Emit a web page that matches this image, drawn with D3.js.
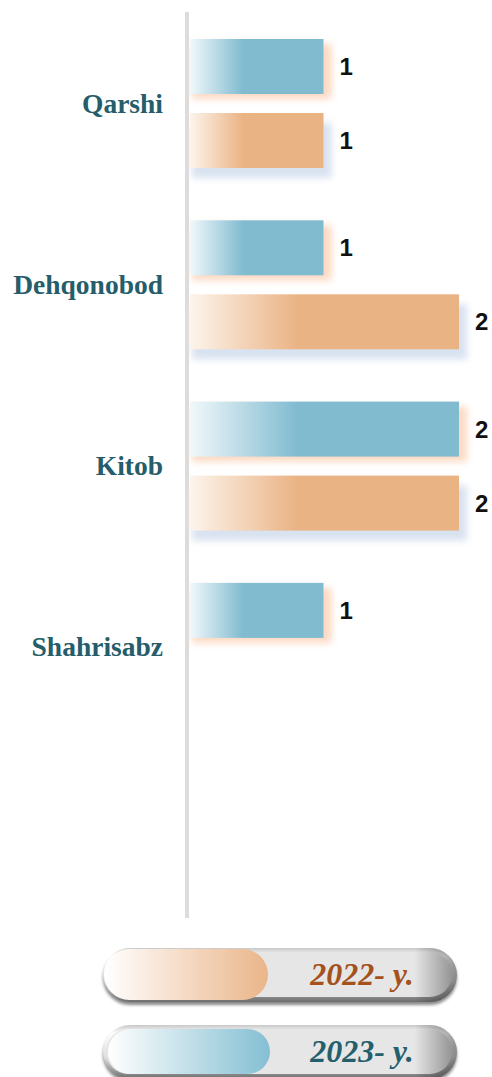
<!DOCTYPE html>
<html>
<head>
<meta charset="utf-8">
<script src="https://cdn.jsdelivr.net/npm/d3@7"></script>
<style>
  body { margin: 0; background: #fff; }
  svg { display: block; }
</style>
</head>
<body>
<script>
// data
var districts = ["Qarshi", "Dehqonobod", "Kitob", "Shahrisabz"];
var seriesKeys = ["2023", "2022"];
var values2023 = [1, 1, 2, 1];
var values2022 = [1, 2, 2, null];
var legendKeys = ["2022", "2023"];
var legendLabels = ["2022- y.", "2023- y."];

var W = 492, H = 1077;

var colors = {"2023": "#80bbd0", "2022": "#eab384"};
var lightColors = {"2023": "#f1f8fb", "2022": "#fdf4ec"};
var shadowColors = {"2023": "#fcd9c2", "2022": "#d8e2f0"};
var textColors = {"2023": "#245f6d", "2022": "#a4511c"};

var svg = d3.select("body").append("svg")
    .attr("width", W)
    .attr("height", H);

var defs = svg.append("defs");

defs.append("filter").attr("id", "blur")
    .attr("x", "-20%").attr("y", "-50%").attr("width", "140%").attr("height", "200%")
    .append("feGaussianBlur").attr("stdDeviation", 3.5);

defs.append("filter").attr("id", "blur2")
    .attr("x", "-20%").attr("y", "-50%").attr("width", "140%").attr("height", "200%")
    .append("feGaussianBlur").attr("stdDeviation", 1.5);

seriesKeys.forEach(function(k) {
    var g = defs.append("linearGradient").attr("id", "bar" + k)
        .attr("x1", 0).attr("x2", 1).attr("y1", 0).attr("y2", 0);
    g.append("stop").attr("offset", 0).attr("stop-color", lightColors[k]);
    g.append("stop").attr("offset", 0.4).attr("stop-color", colors[k]);
    g.append("stop").attr("offset", 1).attr("stop-color", colors[k]);

    var lg = defs.append("linearGradient").attr("id", "leg" + k)
        .attr("x1", 0).attr("x2", 1).attr("y1", 0).attr("y2", 0);
    lg.append("stop").attr("offset", 0).attr("stop-color", "#ffffff");
    lg.append("stop").attr("offset", 1).attr("stop-color", k == "2022" ? "#eab589" : "#84bfd3");
});

var rim = defs.append("linearGradient").attr("id", "rim")
    .attr("x1", 0).attr("x2", 0).attr("y1", 0).attr("y2", 1);
rim.append("stop").attr("offset", 0).attr("stop-color", "#c8c8c8");
rim.append("stop").attr("offset", 0.15).attr("stop-color", "#ffffff");
rim.append("stop").attr("offset", 0.6).attr("stop-color", "#dedede");
rim.append("stop").attr("offset", 1).attr("stop-color", "#6e6e6e");

var side = defs.append("linearGradient").attr("id", "side")
    .attr("x1", 0).attr("x2", 1).attr("y1", 0).attr("y2", 0);
side.append("stop").attr("offset", 0).attr("stop-color", "#000").attr("stop-opacity", 0);
side.append("stop").attr("offset", 0.88).attr("stop-color", "#000").attr("stop-opacity", 0);
side.append("stop").attr("offset", 1).attr("stop-color", "#000").attr("stop-opacity", 0.4);

// scales
var x = d3.scaleLinear().domain([0, 2]).range([188, 459]);

var y0 = d3.scaleBand()
    .domain(districts)
    .range([12, 12 + 181.3 * districts.length]);

var y1 = d3.scaleBand()
    .domain(seriesKeys)
    .range([27, 156])
    .paddingInner(0.257);

var rows = districts.map(function(d, i) {
    return {name: d, "2023": values2023[i], "2022": values2022[i]};
});

// axis line
svg.append("rect")
    .attr("x", 185).attr("y", 12)
    .attr("width", 4).attr("height", 906)
    .attr("fill", "#dcdcdc");

var groups = svg.selectAll(".grp")
    .data(rows)
    .enter().append("g")
    .attr("class", "grp")
    .attr("transform", function(d) { return "translate(0," + y0(d.name) + ")"; });

var bars = groups.selectAll(".bar")
    .data(function(d) {
        return seriesKeys.filter(function(k) { return d[k] != null; })
            .map(function(k) { return {key: k, value: d[k]}; });
    })
    .enter().append("g")
    .attr("class", "bar");

// shadows
bars.append("rect")
    .attr("x", x(0) + 4)
    .attr("y", function(d) { return y1(d.key) + (d.key == "2022" ? 10 : 5); })
    .attr("width", function(d) { return x(d.value) - x(0) + 4; })
    .attr("height", y1.bandwidth())
    .attr("fill", function(d) { return shadowColors[d.key]; })
    .attr("filter", "url(#blur)");

bars.append("rect")
    .attr("x", x(0) + 2)
    .attr("y", function(d) { return y1(d.key); })
    .attr("width", function(d) { return x(d.value) - x(0) - 2; })
    .attr("height", y1.bandwidth())
    .attr("fill", function(d) { return "url(#bar" + d.key + ")"; });

bars.append("text")
    .attr("x", function(d) { return x(d.value) + 16; })
    .attr("y", function(d) { return y1(d.key) + y1.bandwidth() / 2; })
    .attr("dy", "0.36em")
    .style("font-family", "'Liberation Sans', Arial, sans-serif")
    .style("font-weight", "bold")
    .style("font-size", "24px")
    .attr("fill", "#111")
    .text(function(d) { return d.value; });

// district labels
groups.append("text")
    .attr("x", 163)
    .attr("y", (y1.range()[0] + y1.range()[1]) / 2)
    .attr("dy", "0.33em")
    .attr("text-anchor", "end")
    .style("font-family", "'Liberation Serif', 'Times New Roman', serif")
    .style("font-weight", "bold")
    .style("font-size", "27.5px")
    .attr("fill", "#255d6b")
    .text(function(d) { return d.name; });

// legend
var legend = svg.selectAll(".legend")
    .data(legendKeys)
    .enter().append("g")
    .attr("class", "legend")
    .attr("transform", function(d, i) { return "translate(103," + (948 + i * 77) + ")"; });

legend.append("rect")
    .attr("x", 0).attr("y", 3)
    .attr("width", 354).attr("height", 54).attr("rx", 27)
    .attr("fill", "#8a8a8a")
    .attr("filter", "url(#blur2)");

legend.append("rect")
    .attr("width", 354).attr("height", 54).attr("rx", 27)
    .attr("fill", "url(#rim)");

legend.append("rect")
    .attr("x", 3).attr("y", 4)
    .attr("width", 346).attr("height", 45).attr("rx", 22.5)
    .attr("fill", "#e6e6e6");

legend.append("rect")
    .attr("width", 354).attr("height", 54).attr("rx", 27)
    .attr("fill", "url(#side)");

legend.append("rect")
    .attr("x", function(d, i) { return 1 + i * 4; })
    .attr("y", function(d, i) { return 1 + i * 3; })
    .attr("width", function(d, i) { return 164 - i * 2; })
    .attr("height", function(d, i) { return 51 - i * 6; })
    .attr("rx", function(d, i) { return 25.5 - i * 3; })
    .attr("fill", function(d) { return "url(#leg" + d + ")"; });

legend.append("text")
    .attr("x", 259)
    .attr("y", 37)
    .attr("text-anchor", "middle")
    .style("font-family", "'Liberation Serif', 'Times New Roman', serif")
    .style("font-weight", "bold")
    .style("font-style", "italic")
    .style("font-size", "32px")
    .attr("fill", function(d) { return textColors[d]; })
    .text(function(d, i) { return legendLabels[i]; });
</script>
</body>
</html>
